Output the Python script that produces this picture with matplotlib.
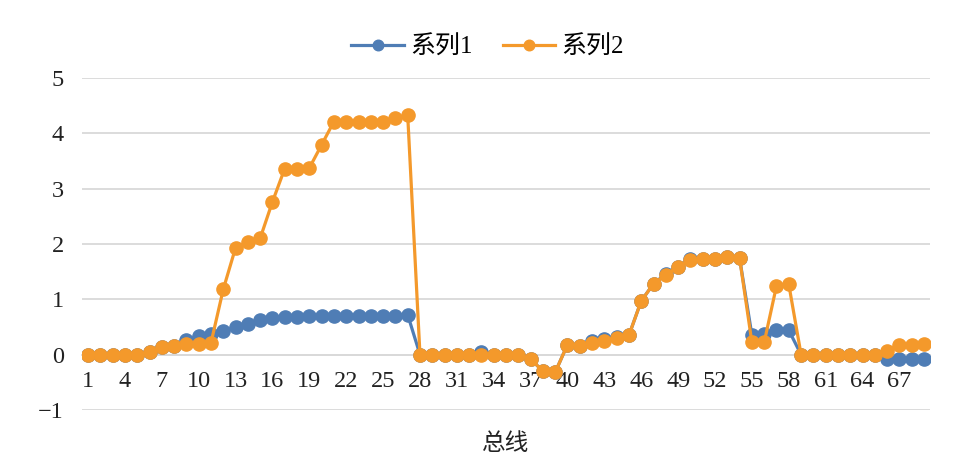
import numpy as np
import matplotlib
matplotlib.use("Agg")
import matplotlib.pyplot as plt

plt.rcParams['font.family'] = ['Liberation Serif', 'Noto Sans CJK SC', 'DejaVu Sans']

# bus index 1..69
buses = list(range(1, 70))

series1 = [
    0, 0, 0, 0, 0, 0.04, 0.13, 0.16, 0.27, 0.33,
    0.38, 0.43, 0.49, 0.56, 0.63, 0.66, 0.68, 0.68, 0.69, 0.69,
    0.70, 0.70, 0.70, 0.70, 0.70, 0.70, 0.72, 0, 0, 0,
    0, 0, 0.04, 0, 0, 0, -0.08, -0.30, -0.32, 0.18,
    0.16, 0.24, 0.28, 0.32, 0.35, 0.97, 1.28, 1.46, 1.59, 1.73,
    1.72, 1.72, 1.76, 1.74, 0.35, 0.38, 0.44, 0.44, 0, 0,
    0, 0, 0, 0, 0, -0.08, -0.08, -0.08, -0.08,
]
series2 = [
    0, 0, 0, 0, 0, 0.04, 0.13, 0.16, 0.19, 0.19,
    0.21, 1.18, 1.93, 2.03, 2.10, 2.76, 3.36, 3.36, 3.37, 3.79,
    4.21, 4.21, 4.21, 4.21, 4.21, 4.27, 4.33, 0, 0, 0,
    0, 0, 0, 0, 0, 0, -0.08, -0.30, -0.32, 0.18,
    0.16, 0.21, 0.25, 0.30, 0.35, 0.97, 1.28, 1.44, 1.59, 1.71,
    1.72, 1.72, 1.76, 1.74, 0.22, 0.22, 1.24, 1.27, 0, 0,
    0, 0, 0, 0, 0, 0.07, 0.18, 0.18, 0.19,
]
xticks = list(range(1, 70, 3))
yticks = [-1, 0, 1, 2, 3, 4, 5]

blue = '#4F7DB5'
orange = '#F4992B'

fig = plt.figure(figsize=(9.75, 4.69), dpi=100)
ax = fig.add_axes([0.084, 0.126, 0.870, 0.708])

ax.plot(buses, series1, color=blue, lw=2.3, marker='o', ms=9.5, label='系列1', zorder=3)
ax.plot(buses, series2, color=orange, lw=2.3, marker='o', ms=9.5, label='系列2', zorder=4)

ax.set_xlim(0.5, 69.5)
ax.set_ylim(-1, 5)
ax.set_yticks(yticks)
ax.set_xticks(xticks)
ax.set_xticklabels([str(t) for t in xticks])
ax.yaxis.grid(True, color='#D9D9D9', lw=1.3)
ax.set_axisbelow(True)

for s in ['top', 'right', 'left']:
    ax.spines[s].set_visible(False)
ax.spines['bottom'].set_position(('data', 0))
ax.spines['bottom'].set_color('#D9D9D9')
ax.spines['bottom'].set_linewidth(1.3)

ax.tick_params(axis='both', length=0, labelsize=17.5, colors='#222222')
ax.tick_params(axis='y', pad=13)
ax.tick_params(axis='x', pad=12)

ax.set_xlabel('总线', fontsize=17, color='#222222')
ax.xaxis.set_label_coords(0.5, -0.07)

fig.legend(loc='center', bbox_to_anchor=(0.5, 0.900), ncol=2, frameon=False,
           fontsize=18, handlelength=2.1, columnspacing=1.2, handletextpad=0.25,
           markerscale=0.8)

fig.savefig('out.png', dpi=100)
